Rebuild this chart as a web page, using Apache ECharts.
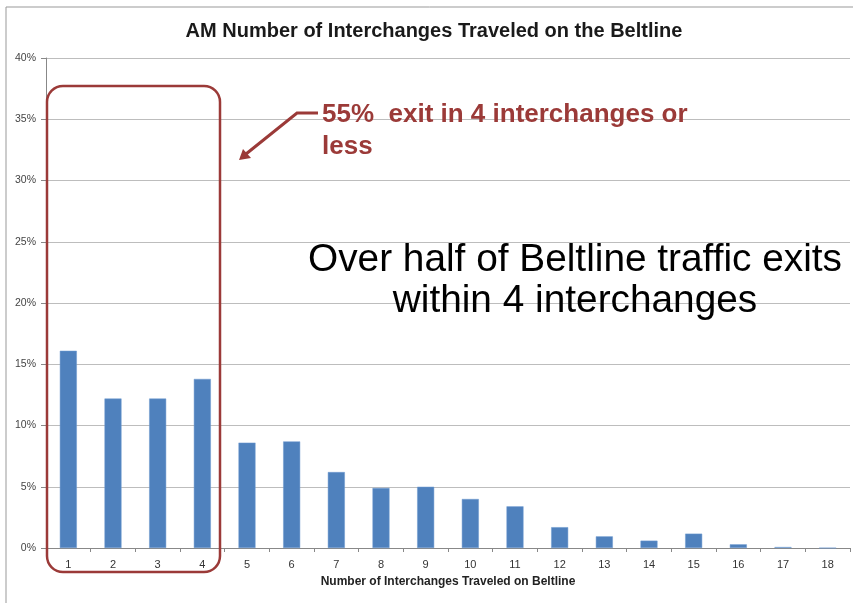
<!DOCTYPE html>
<html>
<head>
<meta charset="utf-8">
<script src="https://cdn.jsdelivr.net/npm/echarts@6/dist/echarts.min.js"></script>
<style>
  html, body { margin: 0; padding: 0; background: #fff; }
  #chart { width: 854px; height: 603px; }
</style>
</head>
<body>
<div id="chart"></div>
<script>
// interchanges traveled (x categories)
var interchanges = ['1','2','3','4','5','6','7','8','9','10','11','12','13','14','15','16','17','18'];
// share of AM beltline trips, percent
var sharePct = [16.1, 12.2, 12.2, 13.8, 8.6, 8.7, 6.2, 4.9, 5.0, 4.0, 3.4, 1.7, 0.95, 0.6, 1.17, 0.3, 0.08, 0];
var yTicks = { min: 0, max: 40, step: 5 };

var chart = echarts.init(document.getElementById('chart'));
var red = '#9b3a38';

chart.setOption({
  backgroundColor: '#fff',
  animation: false,
  title: {
    text: 'AM Number of Interchanges Traveled on the Beltline',
    left: 429,
    top: 16,
    textAlign: 'center',
    textStyle: { fontFamily: 'Liberation Sans', fontWeight: 'bold', fontSize: 20, color: '#1a1a1a' }
  },
  grid: { left: 46, right: 4, top: 58, bottom: 55, containLabel: false },
  xAxis: {
    type: 'category',
    data: interchanges,
    name: 'Number of Interchanges Traveled on Beltline',
    nameLocation: 'middle',
    nameGap: 28,
    nameTextStyle: { fontFamily: 'Liberation Sans', fontWeight: 'bold', fontSize: 12, color: '#222' },
    axisLine: { lineStyle: { color: '#888', width: 1 } },
    axisTick: { show: true, length: 4, lineStyle: { color: '#888' } },
    axisLabel: { fontFamily: 'Liberation Sans', fontSize: 11, color: '#333', margin: 11 }
  },
  yAxis: {
    type: 'value',
    min: yTicks.min,
    max: yTicks.max,
    interval: yTicks.step,
    axisLine: { show: true, lineStyle: { color: '#888', width: 1 } },
    axisTick: { show: true, length: 5, lineStyle: { color: '#888' } },
    axisLabel: { formatter: '{value}%', fontFamily: 'Liberation Sans', fontSize: 10.5, color: '#444', margin: 10 },
    splitLine: { show: true, lineStyle: { color: '#bdbdbd', width: 1 } }
  },
  series: [{
    type: 'bar',
    data: sharePct,
    barWidth: 17,
    itemStyle: { color: '#4f81bd', borderColor: '#6f9bd0', borderWidth: 0.5 }
  }],
  graphic: [
    // outer frame (left and top edges)
    { type: 'polyline', shape: { points: [[6, 603], [6, 7], [853, 7]] }, style: { stroke: '#999', lineWidth: 1, fill: null } },
    // box around first four bars
    { type: 'rect', shape: { x: 47, y: 86, width: 173, height: 486, r: 16 }, style: { stroke: red, lineWidth: 2.5, fill: null }, z: 10 },
    // arrow
    { type: 'polyline', shape: { points: [[318, 113], [297, 113], [246, 154]] }, style: { stroke: red, lineWidth: 3, fill: null }, z: 10 },
    { type: 'polygon', shape: { points: [[239, 160], [243, 149], [251, 158]] }, style: { fill: red }, z: 10 },
    { type: 'text', left: 322, top: 99, z: 10,
      style: { text: '55%  exit in 4 interchanges or\nless', fill: red, font: 'bold 26px "Liberation Sans"', lineHeight: 32 } },
    { type: 'text', x: 575, y: 240, z: 10,
      style: { text: 'Over half of Beltline traffic exits\nwithin 4 interchanges', fill: '#000', font: '38.8px "Liberation Sans"', lineHeight: 41, align: 'center' } }
  ]
});
</script>
</body>
</html>
